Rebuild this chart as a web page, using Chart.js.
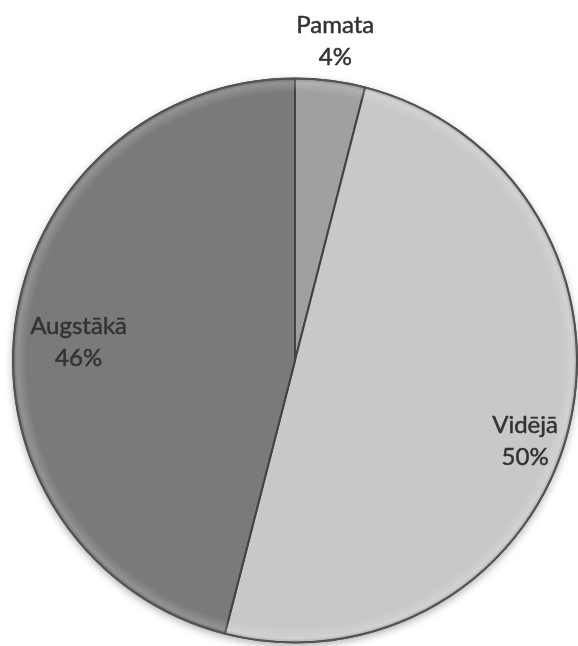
<!doctype html>
<html>
<head>
<meta charset="utf-8">
<title>Izglītības līmenis</title>
<script src="https://cdn.jsdelivr.net/npm/chart.js"></script>
<style>
  html, body { margin: 0; padding: 0; background: #fff; }
  #wrap { width: 578px; height: 646px; position: relative; }
</style>
</head>
<body>
<div id="wrap"><canvas id="pie"></canvas></div>
<script>
// education level shares, clockwise from 12 o'clock
const levels = ['Pamata', 'Vidējā', 'Augstākā'];
const shares = [4, 50, 46];
const sliceColors = ['#a0a0a0', '#c8c8c8', '#7a7a7a'];

// where each label sits: angle shift from the slice middle (deg) and distance as part of the radius
const labelPlace = [
  { shift: 0, dist: 1.14 },
  { shift: 5, dist: 0.865 },
  { shift: -2.5, dist: 0.77 }
];

// soft shadow under the pie and a light bevel along the rim
const bevel = {
  id: 'bevel',
  beforeDatasetsDraw(chart) {
    const arc = chart.getDatasetMeta(0).data[0];
    if (!arc) return;
    const ctx = chart.ctx;
    ctx.save();
    ctx.shadowColor = 'rgba(0,0,0,0.35)';
    ctx.shadowBlur = 8;
    ctx.shadowOffsetY = 3;
    ctx.beginPath();
    ctx.arc(arc.x, arc.y, arc.outerRadius, 0, Math.PI * 2);
    ctx.fillStyle = '#888';
    ctx.fill();
    ctx.restore();
  },
  afterDatasetsDraw(chart) {
    const arc = chart.getDatasetMeta(0).data[0];
    if (!arc) return;
    const ctx = chart.ctx;
    const r = arc.outerRadius;
    ctx.save();
    const g = ctx.createRadialGradient(arc.x, arc.y, r - 14, arc.x, arc.y, r);
    g.addColorStop(0, 'rgba(255,255,255,0)');
    g.addColorStop(0.7, 'rgba(255,255,255,0.18)');
    g.addColorStop(1, 'rgba(60,60,60,0.25)');
    ctx.beginPath();
    ctx.arc(arc.x, arc.y, r, 0, Math.PI * 2);
    ctx.arc(arc.x, arc.y, r - 14, 0, Math.PI * 2, true);
    ctx.fillStyle = g;
    ctx.fill();
    ctx.beginPath();
    ctx.arc(arc.x, arc.y, r, 0, Math.PI * 2);
    ctx.strokeStyle = '#555';
    ctx.lineWidth = 1.5;
    ctx.stroke();
    ctx.restore();
  }
};

// category name and percentage on two lines
const sliceLabels = {
  id: 'sliceLabels',
  afterDraw(chart) {
    const ctx = chart.ctx;
    const total = shares.reduce((a, b) => a + b, 0);
    ctx.save();
    ctx.font = '24px Lato, "Open Sans", sans-serif';
    ctx.fillStyle = '#333';
    ctx.strokeStyle = '#333';
    ctx.lineWidth = 0.5;
    ctx.textAlign = 'center';
    ctx.textBaseline = 'middle';
    chart.getDatasetMeta(0).data.forEach((arc, i) => {
      const p = labelPlace[i];
      const mid = (arc.startAngle + arc.endAngle) / 2 + p.shift * Math.PI / 180;
      const d = arc.outerRadius * p.dist;
      const x = arc.x + Math.cos(mid) * d;
      const y = arc.y + Math.sin(mid) * d;
      const pct = Math.round(shares[i] / total * 100) + '%';
      ctx.fillText(levels[i], x, y - 16);
      ctx.strokeText(levels[i], x, y - 16);
      ctx.fillText(pct, x, y + 16);
      ctx.strokeText(pct, x, y + 16);
    });
    ctx.restore();
  }
};

new Chart(document.getElementById('pie'), {
  type: 'pie',
  data: {
    labels: levels,
    datasets: [{
      data: shares,
      backgroundColor: sliceColors,
      borderColor: '#424242',
      borderWidth: 2
    }]
  },
  options: {
    responsive: true,
    maintainAspectRatio: false,
    animation: false,
    layout: { padding: { left: 12, right: 0, top: 77, bottom: 2 } },
    plugins: {
      legend: { display: false },
      tooltip: { enabled: false }
    }
  },
  plugins: [bevel, sliceLabels]
});
</script>
</body>
</html>
